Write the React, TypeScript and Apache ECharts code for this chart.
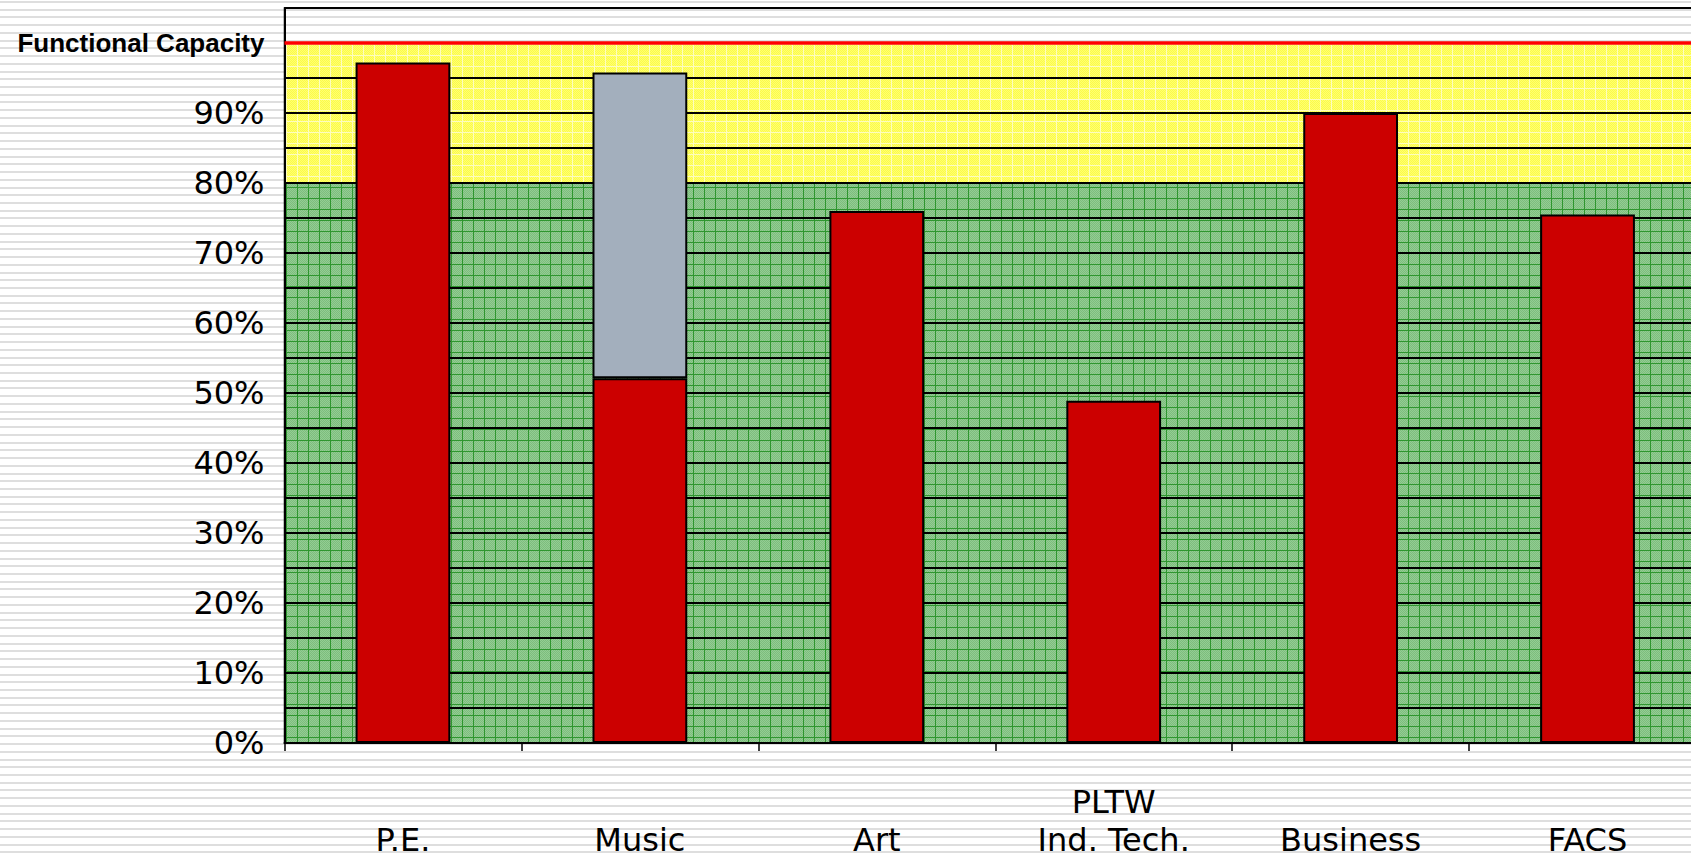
import React, { useEffect, useRef } from 'react';
import * as echarts from 'echarts';

// ---- data ----
const categories = ['P.E.', 'Music', 'Art', 'PLTW\nInd. Tech.', 'Business', 'FACS'];
const currentValues = [97.2, 52.1, 76.0, 48.9, 90.0, 75.5];
const additionalValues: (number | string)[] = ['-', 43.7, '-', '-', '-', '-'];
const functionalCapacity = 100;
const greenLimit = 80;
const yMax = 105;
const yStep = 5;
const yLabelStep = 10;
const capacityLabel = 'Functional Capacity';

function makeTile(kind: 'green' | 'yellow'): HTMLCanvasElement {
  const c = document.createElement('canvas');
  c.width = 11;
  c.height = 11;
  const ctx = c.getContext('2d')!;
  for (let y = 0; y < 11; y++) {
    for (let x = 0; x < 11; x++) {
      const odd = (x + y) % 2 === 1;
      if (kind === 'green') ctx.fillStyle = odd ? '#93cd93' : '#7dbd7d';
      else ctx.fillStyle = odd ? '#ffff70' : '#fbfb4a';
      ctx.fillRect(x, y, 1, 1);
    }
  }
  ctx.fillStyle = kind === 'green' ? '#2f962f' : '#fdfdc0';
  ctx.fillRect(0, 0, 11, 1);
  ctx.fillRect(0, 0, 1, 11);
  return c;
}

export default function App() {
  const ref = useRef<HTMLDivElement>(null);

  useEffect(() => {
    if (!ref.current) return;
    const chart = echarts.init(ref.current, undefined, { renderer: 'svg' });
    const greenFill: any = { image: makeTile('green'), repeat: 'repeat' };
    const yellowFill: any = { image: makeTile('yellow'), repeat: 'repeat' };
    const bandColors: any[] = [];
    for (let v = 0; v < yMax; v += yStep) {
      if (v < greenLimit) bandColors.push(greenFill);
      else if (v < functionalCapacity) bandColors.push(yellowFill);
      else bandColors.push('rgba(0,0,0,0)');
    }

    chart.setOption({
      animation: false,
      backgroundColor: 'transparent',
      grid: {
        left: 284.5,
        right: 0,
        top: 8,
        bottom: 113,
        show: true,
        borderColor: '#000',
        borderWidth: 1.5,
        backgroundColor: 'transparent',
      },
      xAxis: {
        type: 'category',
        data: categories,
        axisLine: { lineStyle: { color: '#000', width: 2 } },
        axisTick: { show: true, length: 8, lineStyle: { color: '#000', width: 1.5 } },
        axisLabel: {
          color: '#000',
          fontFamily: 'DejaVu Sans',
          fontSize: 32,
          lineHeight: 38,
          verticalAlign: 'bottom',
          margin: 116,
          interval: 0,
        },
      },
      yAxis: {
        type: 'value',
        min: 0,
        max: yMax,
        interval: yStep,
        axisLine: { show: true, lineStyle: { color: '#000', width: 2 } },
        axisTick: { show: false },
        splitLine: { show: true, lineStyle: { color: '#000', width: 2 } },
        splitArea: { show: true, areaStyle: { color: bandColors } },
        axisLabel: {
          color: '#000',
          fontFamily: 'DejaVu Sans',
          fontSize: 32,
          margin: 20,
          formatter: (v: number) => {
            const p = Math.round(v);
            if (p === functionalCapacity) return '{b|' + capacityLabel + '}';
            if (p % yLabelStep === 0 && p < functionalCapacity) return p + '%';
            return '';
          },
          rich: {
            b: {
              fontFamily: 'Liberation Sans',
              fontWeight: 'bold',
              fontSize: 26,
              color: '#000',
            },
          },
        },
      },
      series: [
        {
          type: 'bar',
          stack: 'total',
          data: currentValues,
          barWidth: '40%',
          itemStyle: { color: '#cc0000', borderColor: '#000', borderWidth: 2 },
          markLine: {
            silent: true,
            symbol: 'none',
            label: { show: false },
            lineStyle: { color: '#ff0000', width: 3.5, type: 'solid' },
            data: [{ yAxis: functionalCapacity }],
          },
        },
        {
          type: 'bar',
          stack: 'total',
          data: additionalValues,
          barWidth: '40%',
          itemStyle: { color: '#a3afbd', borderColor: '#000', borderWidth: 2 },
        },
      ],
    });
    return () => chart.dispose();
  }, []);

  return (
    <div
      style={{
        position: 'fixed',
        left: 0,
        top: 0,
        width: 1691,
        height: 859,
        overflow: 'hidden',
        background:
          'repeating-linear-gradient(to bottom, #ffffff 0px, #ffffff 1px, #dedede 1px, #dedede 3px, #ffffff 3px, #ffffff 7.73px)',
      }}
    >
      <div ref={ref} style={{ width: 1706, height: 859 }} />
    </div>
  );
}
